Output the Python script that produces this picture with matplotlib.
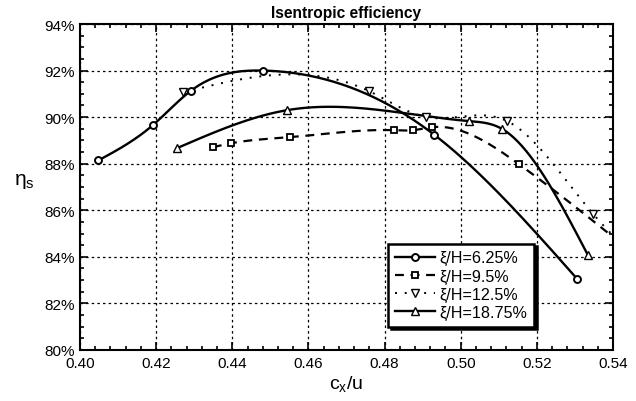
import numpy as np
import matplotlib
matplotlib.use("Agg")
import matplotlib.pyplot as plt
from matplotlib.ticker import MultipleLocator, FuncFormatter

plt.rcParams['font.family'] = ['Liberation Sans', 'DejaVu Sans']

# Measured isentropic efficiency vs. flow coefficient for four spanwise positions
x_625 = [0.4048, 0.4193, 0.4291, 0.4481, 0.4930, 0.5306]
y_625 = [88.14, 89.68, 91.13, 92.00, 89.25, 83.05]

x_95 = [0.4349, 0.4397, 0.4552, 0.4825, 0.4875, 0.4925, 0.5153, 0.5450]
y_95 = [88.71, 88.88, 89.14, 89.44, 89.44, 89.57, 87.98, 84.20]

x_125 = [0.4271, 0.4759, 0.4910, 0.5122, 0.5348, 0.5450]
y_125 = [91.07, 91.12, 90.00, 89.83, 85.84, 84.10]

x_1875 = [0.4255, 0.4544, 0.5022, 0.5108, 0.5334]
y_1875 = [88.67, 90.30, 89.83, 89.50, 84.08]

labels = ['ξ/H=6.25%', 'ξ/H=9.5%', 'ξ/H=12.5%', 'ξ/H=18.75%']


def natural_spline(x, y, n=300):
    """Natural cubic spline through the given points, sampled densely."""
    x = np.asarray(x, float)
    y = np.asarray(y, float)
    k = len(x)
    h = np.diff(x)
    A = np.zeros((k, k))
    b = np.zeros(k)
    A[0, 0] = A[-1, -1] = 1.0
    for i in range(1, k - 1):
        A[i, i - 1] = h[i - 1]
        A[i, i] = 2 * (h[i - 1] + h[i])
        A[i, i + 1] = h[i]
        b[i] = 3 * ((y[i + 1] - y[i]) / h[i] - (y[i] - y[i - 1]) / h[i - 1])
    c = np.linalg.solve(A, b)
    xs = np.linspace(x[0], x[-1], n)
    idx = np.clip(np.searchsorted(x, xs) - 1, 0, k - 2)
    dx = xs - x[idx]
    bb = (y[idx + 1] - y[idx]) / h[idx] - h[idx] * (2 * c[idx] + c[idx + 1]) / 3
    dd = (c[idx + 1] - c[idx]) / (3 * h[idx])
    ys = y[idx] + bb * dx + c[idx] * dx ** 2 + dd * dx ** 3
    return xs, ys


fig = plt.figure(figsize=(6.36, 4.02), dpi=100)
ax = fig.add_axes([0.1258, 0.1269, 0.8380, 0.8109])

series = [
    (x_625, y_625, dict(ls='-', lw=1.7), dict(marker='o', ms=5, mfc='white', mew=1.4)),
    (x_95, y_95, dict(ls=(0, (4, 3)), lw=1.6), dict(marker='s', ms=4, mfc='white', mew=1.3)),
    (x_125, y_125, dict(ls=(0, (1, 4)), lw=1.4), dict(marker='v', ms=6, mfc='white', mew=1.0)),
    (x_1875, y_1875, dict(ls='-', lw=1.7), dict(marker='^', ms=6, mfc='white', mew=1.0)),
]

handles = []
for (xs, ys, lstyle, mstyle), lab in zip(series, labels):
    sx, sy = natural_spline(xs, ys)
    ax.plot(sx, sy, color='black', **lstyle, zorder=2)
    ax.plot(xs, ys, ls='none', color='black', mec='black', zorder=3, **mstyle)
    h, = ax.plot([], [], color='black', mec='black', label=lab, **lstyle, **mstyle)
    handles.append(h)

ax.set_xlim(0.40, 0.54)
ax.set_ylim(80, 94)
ax.xaxis.set_major_locator(MultipleLocator(0.02))
ax.xaxis.set_minor_locator(MultipleLocator(0.004))
ax.yaxis.set_major_locator(MultipleLocator(2))
ax.yaxis.set_minor_locator(MultipleLocator(0.5))
ax.xaxis.set_major_formatter(FuncFormatter(lambda v, p: f"{v:.2f}"))
ax.yaxis.set_major_formatter(FuncFormatter(lambda v, p: f"{v:.0f}%"))
ax.tick_params(which='both', direction='in', top=True, right=True, width=1.2,
               labelsize=11, pad=4)
ax.tick_params(which='major', length=6)
ax.tick_params(which='minor', length=3)
for s in ax.spines.values():
    s.set_linewidth(1.5)

ax.grid(True, which='major', color='black', ls=(0, (2, 2.5)), lw=0.9)

ax.set_title('Isentropic efficiency', fontsize=11.2, fontweight='bold', pad=5)
ax.set_xlabel('c$_\\mathregular{x}$/u', fontsize=14, labelpad=3)
ax.set_ylabel('η$_\\mathregular{s}$', fontsize=15, rotation=0, labelpad=10)
ax.yaxis.set_label_coords(-0.105, 0.49)

leg = ax.legend(handles=handles, loc='lower right', bbox_to_anchor=(0.852, 0.072),
                frameon=True, fancybox=False,
                shadow={'color': 'black', 'alpha': 1.0}, fontsize=11.6,
                handlelength=2.5, handletextpad=0.3, borderpad=0.4,
                labelspacing=0.2, borderaxespad=0.0)
leg.get_frame().set_edgecolor('black')
leg.get_frame().set_linewidth(1.8)

fig.savefig('out.png', dpi=100)
